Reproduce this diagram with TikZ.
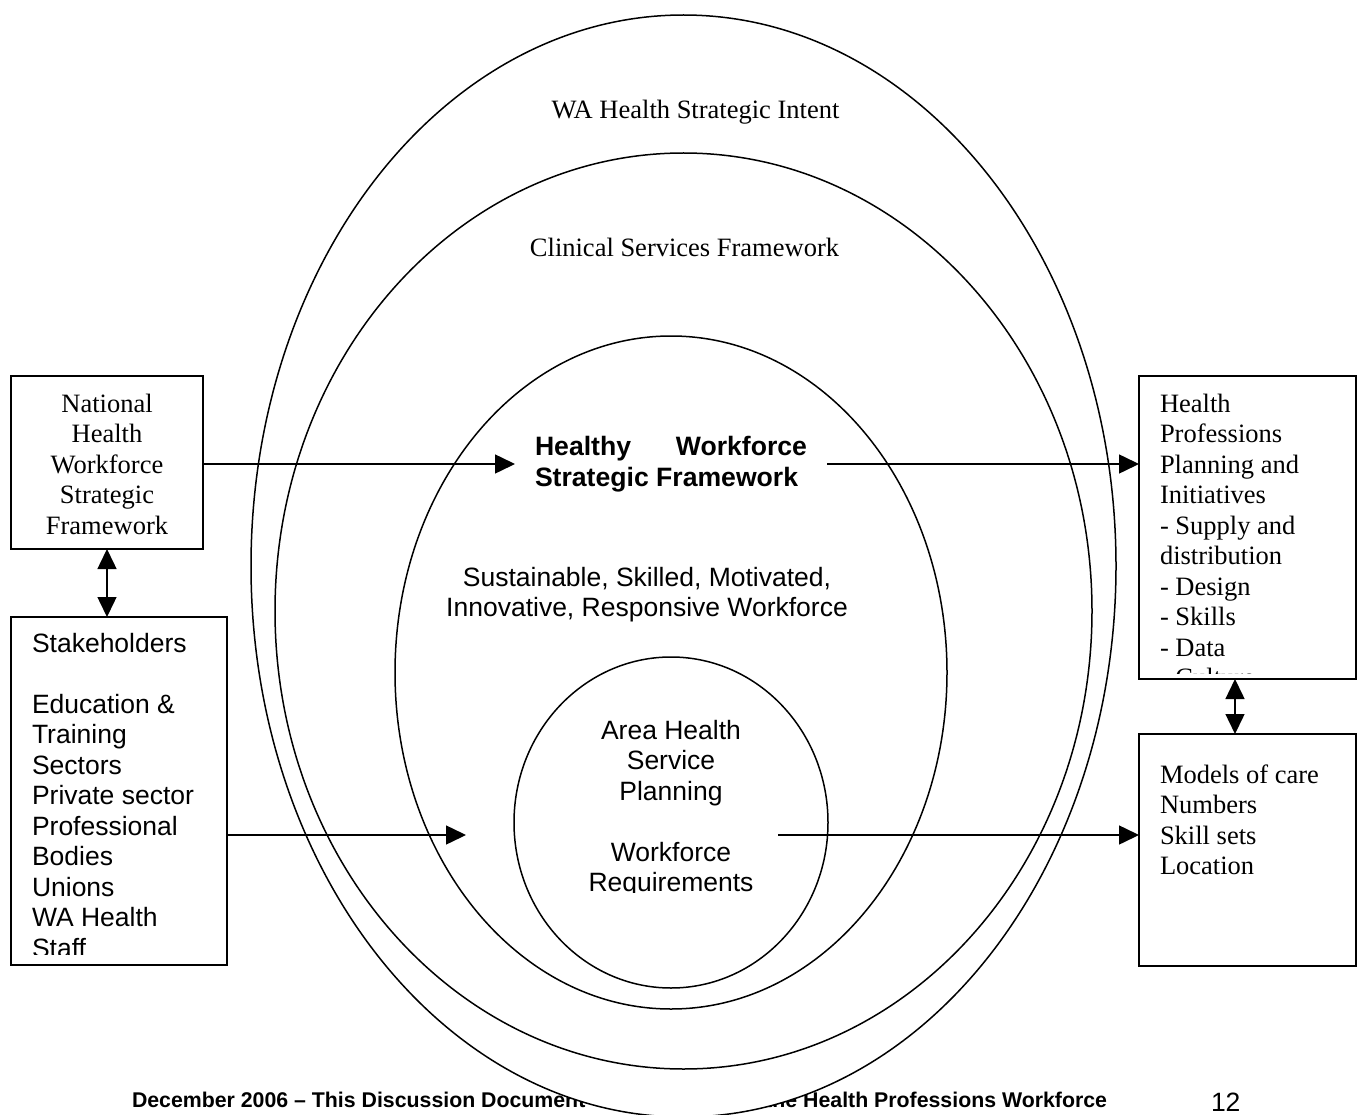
\documentclass[tikz,border=0pt]{standalone}
\usepackage{fontspec}
\setmainfont{Liberation Serif}
\newfontfamily\arialf[Ligatures=TeX]{Liberation Sans}
\usetikzlibrary{arrows.meta,shapes.geometric}
\tikzset{
  ring/.style={draw,ellipse,line width=1.5pt,inner sep=0pt,outer sep=0pt},
  boxframe/.style={draw,rectangle,line width=1.5pt,inner sep=0pt,outer sep=0pt},
  serif/.style={font=\fontsize{26.5}{30.5}\selectfont,inner sep=0pt,outer sep=0pt},
  sans/.style={font=\arialf\fontsize{26.5}{30.5}\selectfont,inner sep=0pt,outer sep=0pt},
  sansbold/.style={font=\arialf\bfseries\fontsize{26.6}{31}\selectfont,inner sep=0pt,outer sep=0pt},
  footbold/.style={font=\arialf\bfseries\fontsize{21.3}{24}\selectfont,inner sep=0pt,outer sep=0pt},
  arr/.style={line width=1.5pt,-{Triangle[length=20pt,width=19pt]}},
  dblarr/.style={line width=1.5pt,{Triangle[length=20pt,width=19pt]}-{Triangle[length=20pt,width=19pt]}},
}
\begin{document}
\begin{tikzpicture}[x=1pt,y=-1pt]
\useasboundingbox (0,0) rectangle (1357,1115);
\fill[white] (0,0) rectangle (1357,1115);

% footer (partly hidden behind the outer ellipse)
\node[footbold,anchor=base west] (footL) at (132,1107.6) {December 2006 – This Discussion Document};
\node[footbold,anchor=base east] (footR) at (1107,1107.6) {the Health Professions Workforce};
\node[sans,anchor=base west] (pagenum) at (1211,1111.5) {12};

% nested ovals
\node[ring,fill=white,minimum width=865pt,minimum height=1102pt] (intent) at (683.5,566) {};
\node[ring,minimum width=817pt,minimum height=916pt] (csf) at (683.5,611) {};
\node[ring,minimum width=552pt,minimum height=673pt] (hwf) at (671,672.5) {};
\node[ring,minimum width=314pt,minimum height=331pt] (ahs) at (671,822.5) {};

% oval texts
\node[serif,anchor=base] (intentT) at (695.5,119) {WA Health Strategic Intent};
\node[serif,anchor=base] (csfT) at (684.5,257) {Clinical Services Framework};
\node[sansbold,anchor=base west] (hwfT) at (535,455)
  {\begin{tabular}[t]{@{}l@{}}\makebox[272pt][s]{Healthy Workforce}\\Strategic Framework\end{tabular}};
\node[sans,anchor=base] (susT) at (647,586)
  {\begin{tabular}[t]{@{}c@{}}Sustainable, Skilled, Motivated,\\Innovative, Responsive Workforce\end{tabular}};
\begin{scope}
  \clip (520,700) rectangle (822,892);
  \node[sans,anchor=base] (ahsT) at (671,739)
    {\begin{tabular}[t]{@{}c@{}}Area Health\\Service\\Planning\\ \\Workforce\\Requirements\end{tabular}};
\end{scope}

% side boxes
\node[boxframe,minimum width=192pt,minimum height=173pt] (nat) at (107,462.5) {};
\node[boxframe,minimum width=216pt,minimum height=348pt] (stk) at (119,791) {};
\node[boxframe,minimum width=217pt,minimum height=303pt] (hpp) at (1247.5,527.5) {};
\node[boxframe,minimum width=217pt,minimum height=232pt] (moc) at (1247.5,850) {};

\node[serif,anchor=base] (natT) at (107,412)
  {\begin{tabular}[t]{@{}c@{}}National\\Health\\Workforce\\Strategic\\Framework\end{tabular}};
\begin{scope}
  \clip (14,620) rectangle (224,954);
  \node[sans,anchor=base west] (stkT) at (32,652)
    {\begin{tabular}[t]{@{}l@{}}Stakeholders\\ \\Education \&\\Training\\Sectors\\Private sector\\Professional\\Bodies\\Unions\\WA Health\\Staff\end{tabular}};
\end{scope}
\begin{scope}
  \clip (1142,379) rectangle (1353,673);
  \node[serif,anchor=base west] (hppT) at (1160,412)
    {\begin{tabular}[t]{@{}l@{}}Health\\Professions\\Planning and\\Initiatives\\- Supply and\\distribution\\- Design\\- Skills\\- Data\\- Culture\end{tabular}};
\end{scope}
\node[serif,anchor=base west] (mocT) at (1160,783)
  {\begin{tabular}[t]{@{}l@{}}Models of care\\Numbers\\Skill sets\\Location\end{tabular}};

% connectors
\coordinate (t1) at (515,464);
\coordinate (s1) at (827,464);
\coordinate (t2) at (466,835);
\coordinate (s2) at (778,835);
\coordinate (rd) at (1235,700);
\draw[arr] (nat.east |- t1) -- (t1);
\draw[arr] (s1) -- (hpp.west |- s1);
\draw[arr] (stk.east |- t2) -- (t2);
\draw[arr] (s2) -- (moc.west |- s2);
\draw[dblarr] (nat.south) -- (nat.south |- stk.north);
\draw[dblarr] (rd |- hpp.south) -- (rd |- moc.north);
\end{tikzpicture}
\end{document}
